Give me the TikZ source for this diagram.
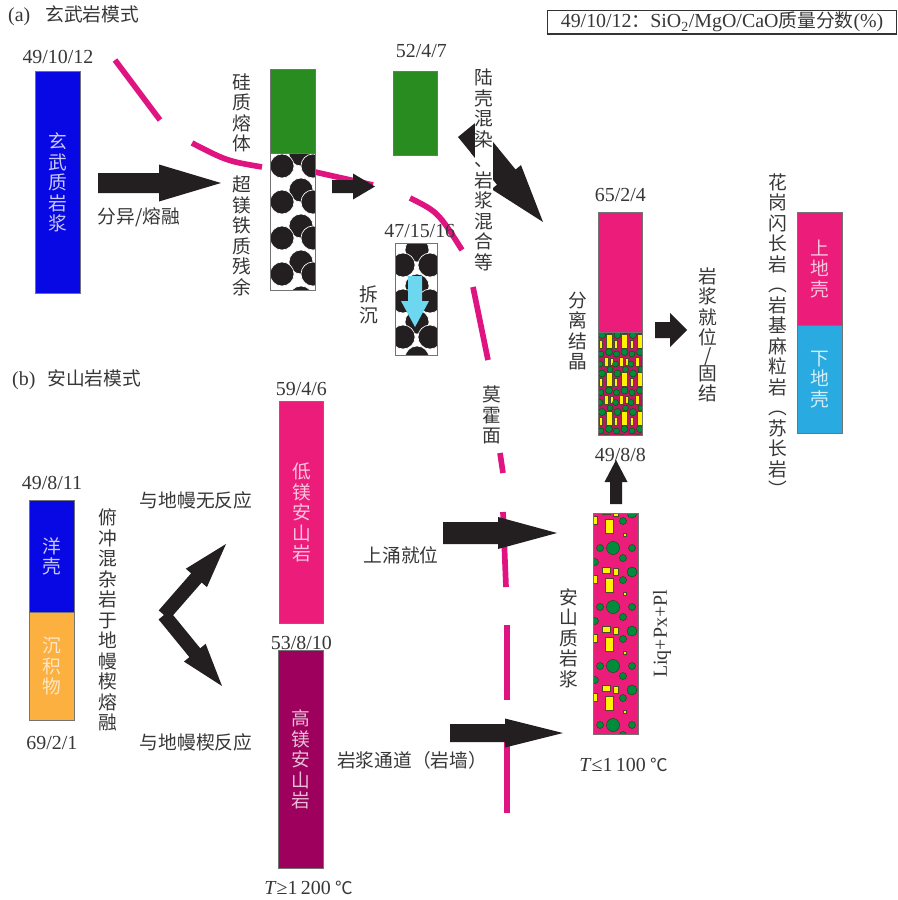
\documentclass[tikz,border=0pt]{standalone}
\usepackage{fontspec}
\setmainfont{Liberation Serif}
\newfontfamily\cjk{Noto Sans CJK SC}
\usetikzlibrary{calc,positioning}

\definecolor{basaltblue}{RGB}{8,8,228}
\definecolor{meltgreen}{RGB}{41,140,33}
\definecolor{rosepink}{RGB}{236,28,123}
\definecolor{skyblue}{RGB}{41,171,226}
\definecolor{sedorange}{RGB}{251,176,64}
\definecolor{plum}{RGB}{158,0,93}
\definecolor{mohopink}{RGB}{224,20,128}
\definecolor{arrowblack}{RGB}{35,31,32}
\definecolor{sinkcyan}{RGB}{110,215,240}
\definecolor{xtalyellow}{RGB}{255,242,0}
\definecolor{xtalgreen}{RGB}{0,140,60}
\definecolor{labelgray}{RGB}{55,55,55}

\newcommand\zh[1]{{\cjk\fontsize{16}{18}\selectfont #1}}

\tikzset{
  col/.style={draw=black!55, line width=0.25mm, anchor=north west, inner sep=0pt, minimum width=13.5mm},
  num/.style={font=\fontsize{17}{20}\selectfont, text=labelgray, inner sep=0pt},
  hz/.style={font=\cjk\fontsize{16}{18}\selectfont, text=labelgray, inner sep=0pt},
  vt/.style={font=\cjk\fontsize{16}{17.5}\selectfont, text=labelgray, align=center, inner sep=0pt},
  moho/.style={draw=mohopink, line width=1.7mm},
  grain/.style={fill=arrowblack, draw=white, line width=0.2mm},
  xtal/.style={fill=xtalyellow, draw=black!60!olive, line width=0.12mm},
  olv/.style={fill=xtalgreen, draw=black!70!green, line width=0.12mm},
}

% block arrow: [colour]{tail}{tip}{half shaft}{half head}{head length}, sizes in mm
\newcommand\fatarrow[6][arrowblack]{%
  \coordinate (fa) at ($(#3)!#6mm!(#2)$);
  \fill[#1] ($(#2)!#4mm!90:(#3)$) -- ($(fa)!#4mm!90:(#3)$) -- ($(fa)!#5mm!90:(#3)$) -- (#3)
    -- ($(fa)!#5mm!-90:(#3)$) -- ($(fa)!#4mm!-90:(#3)$) -- ($(#2)!#4mm!-90:(#3)$) -- cycle;}

% packed grains: {node}{single x}{single y}{pair left x}{pair right x}{pair y}
\newcommand\grains[6]{%
  \begin{scope}
    \clip (#1.north west) rectangle (#1.south east);
    \foreach \k in {0,...,4}{
      \filldraw[grain] ($(#1.north west)+(#2,#3+36*\k)$) circle[radius=12];
      \filldraw[grain] ($(#1.north west)+(#4,#6+36*\k)$) circle[radius=12];
      \filldraw[grain] ($(#1.north west)+(#5,#6+36*\k)$) circle[radius=12];
    }
  \end{scope}
  \draw[black!55, line width=0.25mm] (#1.north west) rectangle (#1.south east);}

% cumulate crystals
\newcommand\cumulus[1]{%
  \begin{scope}
    \clip (#1.north west) rectangle (#1.south east);
    \foreach \i in {0,1,2}{\foreach \j in {0,1,2}{
      \coordinate (t) at ($(#1.north west)+(15.5*\i,38.5*\j)$);
      \filldraw[olv] ($(t)+(4,3)$) circle[radius=3.5];
      \filldraw[olv] ($(t)+(12,-1)$) circle[radius=3];
      \filldraw[xtal] ($(t)+(8,2)$) rectangle ($(t)+(14,16)$);
      \filldraw[xtal] ($(t)+(1,8)$) rectangle ($(t)+(4,16)$);
      \filldraw[olv] ($(t)+(11,20)$) circle[radius=3.5];
      \filldraw[olv] ($(t)+(3,22)$) circle[radius=3];
      \filldraw[xtal] ($(t)+(6,25)$) rectangle ($(t)+(10,34)$);
      \filldraw[xtal] ($(t)+(12,26)$) rectangle ($(t)+(15,33)$);
      \filldraw[olv] ($(t)+(2,32)$) circle[radius=3];
    }}
  \end{scope}
  \draw[black!55, line width=0.25mm] (#1.north west) rectangle (#1.south east);}

% phenocrysts in the andesitic magma
\newcommand\porphyry[1]{%
  \begin{scope}
    \clip (#1.north west) rectangle (#1.south east);
    \foreach \k in {-1,...,3}{
      \coordinate (t) at ($(#1.north west)+(0,35+59*\k)$);
      \filldraw[olv] ($(t)+(7,0)$) circle[radius=3.5];
      \filldraw[olv] ($(t)+(20,0)$) circle[radius=6.5];
      \filldraw[olv] ($(t)+(39,0)$) circle[radius=3.5];
      \filldraw[olv] ($(t)+(2,14)$) circle[radius=3.5];
      \filldraw[olv] ($(t)+(30,10)$) circle[radius=3.5];
      \filldraw[olv] ($(t)+(39,24)$) circle[radius=5];
      \filldraw[olv] ($(t)+(30,32)$) circle[radius=3.5];
      \filldraw[xtal] ($(t)+(9,19)$) rectangle ($(t)+(17,25)$);
      \filldraw[xtal] ($(t)+(20,20)$) rectangle ($(t)+(25,27)$);
      \filldraw[xtal] ($(t)+(12,30)$) rectangle ($(t)+(20,44)$);
      \filldraw[xtal] ($(t)+(0,27)$) rectangle ($(t)+(4,35)$);
      \filldraw[xtal] ($(t)+(30,44)$) rectangle ($(t)+(33,47)$);
    }
  \end{scope}
  \draw[black!55, line width=0.25mm] (#1.north west) rectangle (#1.south east);}

\begin{document}
\begin{tikzpicture}[x=0.3mm, y=-0.3mm]
\useasboundingbox[fill=white] (0,0) rectangle (897,900);

% Moho
\draw[moho] (115,60) -- (160,120);
\draw[moho] (192,143) .. controls (227,161) .. (262,167);
\draw[moho] (315,172) -- (373,185);
\draw[moho] (410,198) .. controls (438,212) .. (462,250);
\draw[moho] (473,287) -- (488,360);
\draw[moho] (500,453) -- (503,473);
\draw[moho] (503,512) -- (506,587);
\draw[moho] (507,625) -- (507,700);
\draw[moho] (507,740) -- (507,813);

% (a) columns
\node[col, vt, fill=basaltblue, text=white!78!basaltblue, minimum height=66.6mm] (basalt) at (35,71) {玄\\武\\质\\岩\\浆};
\node[col, fill=meltgreen, minimum height=25.2mm] (silicic) at (270,69) {};
\node[col, fill=white, minimum height=41.1mm] (ultramafic) at (270,153) {};
\grains{ultramafic}{31}{1}{12}{43}{13}
\node[col, fill=meltgreen, minimum width=13.2mm, minimum height=25.2mm] (felsic) at (393,71) {};
\node[col, fill=white, minimum width=12.6mm, minimum height=33.6mm] (delam) at (395,243) {};
\grains{delam}{22}{7}{8}{35}{22}
\node[col, fill=rosepink, minimum width=13.2mm, minimum height=36mm] (granite) at (598,212) {};
\node[col, fill=rosepink!80!black, minimum width=13.2mm, minimum height=30.9mm] (cumulate) at (598,332) {};
\cumulus{cumulate}
\node[col, vt, fill=rosepink, text=white!75!rosepink, minimum height=33.9mm] (upcrust) at (797,212) {上\\地\\壳};
\node[col, vt, fill=skyblue, text=white!80!skyblue, minimum height=32.4mm] (lowcrust) at (797,325) {下\\地\\壳};

% (b) columns
\node[col, vt, fill=basaltblue, text=white!78!basaltblue, minimum height=33.6mm] (ocean) at (29,500) {洋\\壳};
\node[col, vt, fill=sedorange, text=white!70!sedorange, minimum height=32.4mm] (sediment) at (29,612) {沉\\积\\物};
\node[col, vt, fill=rosepink, text=white!75!rosepink, minimum width=13.2mm, minimum height=66.6mm] (lowmg) at (279,401) {低\\镁\\安\\山\\岩};
\node[col, vt, fill=plum, text=white!75!plum, minimum height=65.4mm] (highmg) at (278,650) {高\\镁\\安\\山\\岩};
\node[col, fill=rosepink, minimum height=66.3mm] (andmagma) at (593,513) {};
\porphyry{andmagma}

% compositions
\node[num, above=2mm of basalt] (c-basalt) {49/10/12};
\node[num, above=3.9mm of felsic, xshift=1.8mm] (c-felsic) {52/4/7};
\node[num, above=1.5mm of delam, xshift=1mm] (c-delam) {47/15/16};
\node[num, above=3mm of granite] (c-granite) {65/2/4};
\node[num, below=3.6mm of cumulate] (c-cumulate) {49/8/8};
\node[num, above=1.5mm of lowmg] (c-lowmg) {59/4/6};
\node[num, below=3.6mm of lowmg] (c-highmg) {53/8/10};
\node[num, above=3mm of ocean] (c-ocean) {49/8/11};
\node[num, below=4.5mm of sediment] (c-sediment) {69/2/1};
\node[num, below=3.6mm of highmg, xshift=2.4mm] (t-highmg) {\textit{T}≥1\,200 {\cjk\fontsize{15}{17}\selectfont ℃}};
\node[num, below=6.8mm of andmagma, xshift=2.4mm] (t-andmagma) {\textit{T}≤1\,100 {\cjk\fontsize{15}{17}\selectfont ℃}};

% arrows
\coordinate (melt-s) at (98,183); \coordinate (melt-e) at (221,183);
\fatarrow{melt-s}{melt-e}{3}{5.55}{18.6}
\coordinate (up-s) at (332,186.5); \coordinate (up-e) at (375,186.5);
\fatarrow{up-s}{up-e}{1.95}{3.9}{6.6}
\coordinate (mix-w) at (488,140); \coordinate (mix-l) at (458,137);
\fatarrow{mix-w}{mix-l}{2.7}{6}{6}
\coordinate (mix-s) at (480,145); \coordinate (mix-e) at (543,222);
\fatarrow{mix-s}{mix-e}{3.6}{5.7}{17.4}
\coordinate (sink-s) at (415,276); \coordinate (sink-e) at (415,327);
\fatarrow[sinkcyan]{sink-s}{sink-e}{2.1}{4.2}{7.8}
\coordinate (place-s) at (655,330); \coordinate (place-e) at (687,330);
\fatarrow{place-s}{place-e}{2.4}{5.1}{5.1}
\coordinate (rise-s) at (616,504); \coordinate (rise-e) at (616,460);
\fatarrow{rise-s}{rise-e}{1.8}{3.45}{6.6}
\coordinate (v-s) at (164,615); \coordinate (v-up) at (226,544); \coordinate (v-dn) at (222,686);
\fatarrow{v-s}{v-up}{2.1}{4.2}{13.5}
\fatarrow{v-s}{v-dn}{2.1}{4.2}{12.9}
\coordinate (well-s) at (443,533); \coordinate (well-e) at (557,533);
\fatarrow{well-s}{well-e}{3.3}{4.8}{17.7}
\coordinate (dyke-s) at (450,733); \coordinate (dyke-e) at (563,733);
\fatarrow{dyke-s}{dyke-e}{2.7}{4.35}{17.4}

% labels
\node[num, anchor=west] (title-a) at (8,16) {(a)\hspace{4.5mm}\zh{玄武岩模式}};
\node[num, anchor=west] (title-b) at (12,380) {(b)\hspace{3.6mm}\zh{安山岩模式}};
\node[num, draw=black!80, line width=0.35mm, minimum width=104.7mm, minimum height=7mm, anchor=north west] (legend) at (547,10)
  {49/10/12\zh{：}SiO\textsubscript{2}/MgO/CaO\zh{质量分数}(\%)};
\node[hz] (l-melt) at (139,217) {分异/熔融};
\node[vt] (l-silicic) at (242,113) {硅\\质\\熔\\体};
\node[vt] (l-ultramafic) at (242,236) {超\\镁\\铁\\质\\残\\余};
\node[vt] (l-sink) at (369,305) {拆\\沉};
\node[vt, fill=white] (l-mix) at (484,170) {陆\\壳\\混\\染\\、\\岩\\浆\\混\\合\\等};
\node[vt] (l-fc) at (578,331) {分\\离\\结\\晶};
\node[vt] (l-place) at (708,335) {岩\\浆\\就\\位\\[-0.8mm]/\\[-0.8mm]固\\结};
\node[vt] (l-crust) at (778,335) {花\\岗\\闪\\长\\岩\\︵\\岩\\基\\麻\\粒\\岩\\︵\\苏\\长\\岩\\︶};
\node[vt] (l-moho) at (492,415) {莫\\霍\\面};
\node[vt] (l-slab) at (108,620) {俯\\冲\\混\\杂\\岩\\于\\地\\幔\\楔\\熔\\融};
\node[hz] (l-noreact) at (196,500) {与地幔无反应};
\node[hz] (l-react) at (196,742) {与地幔楔反应};
\node[hz] (l-well) at (401,555) {上涌就位};
\node[hz] (l-dyke) at (412,760) {岩浆通道（岩墙）};
\node[vt] (l-andmagma) at (569,638) {安\\山\\质\\岩\\浆};
\node[num, rotate=90] (l-phases) at (662,634) {Liq+Px+Pl};
\end{tikzpicture}
\end{document}
